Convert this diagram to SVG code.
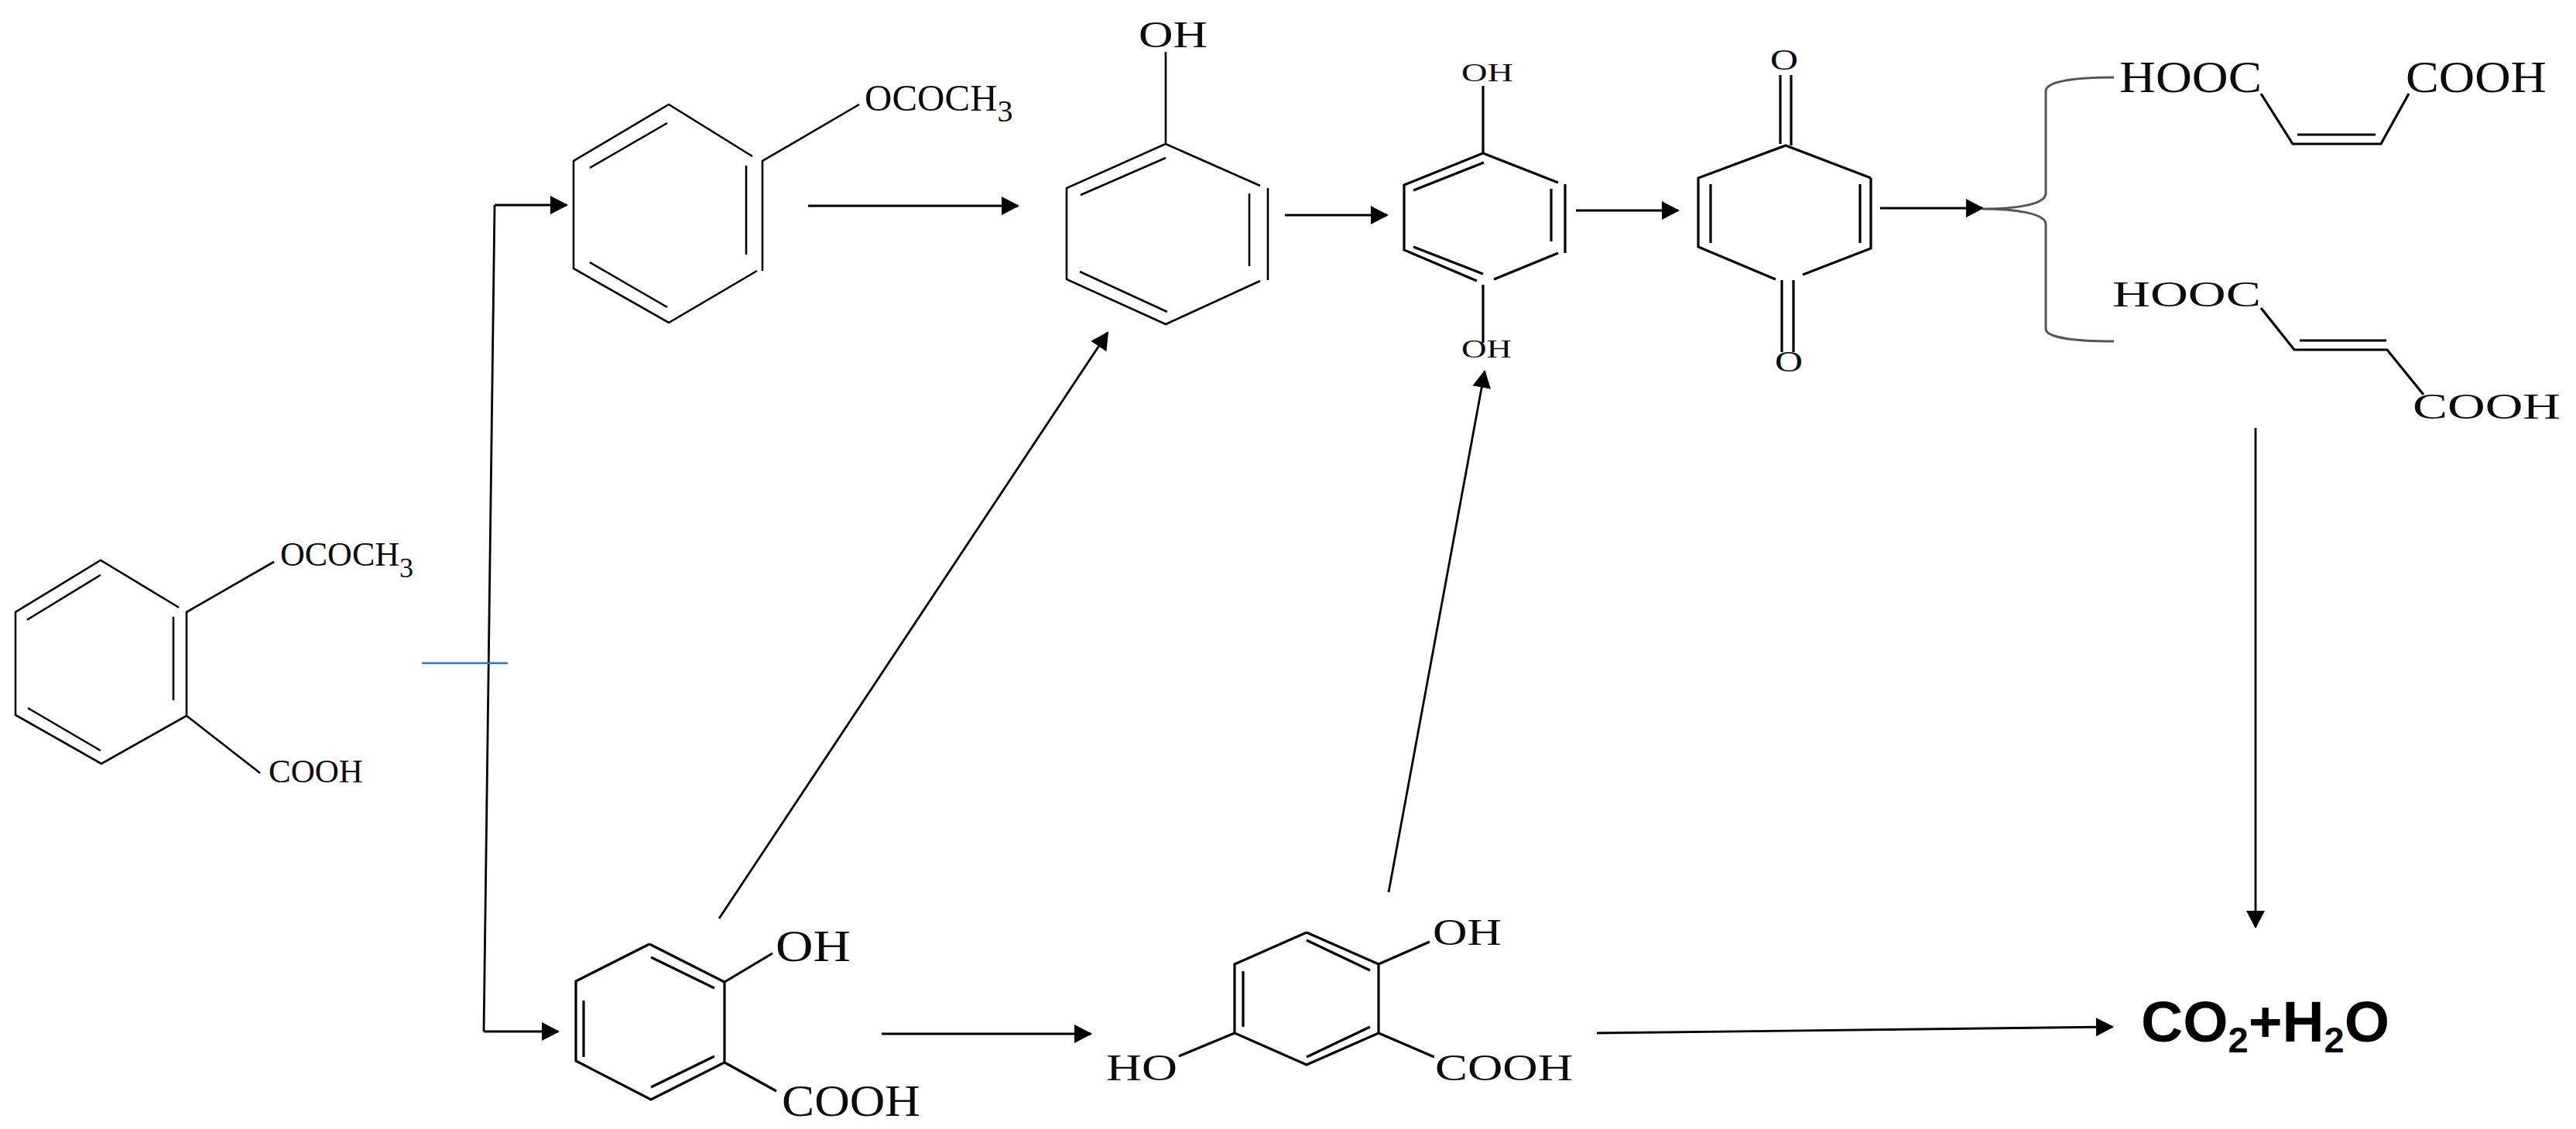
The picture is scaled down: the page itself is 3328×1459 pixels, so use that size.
<svg xmlns="http://www.w3.org/2000/svg" width="3328" height="1459" viewBox="0 0 3328 1459">
<style>
.b{fill:none;stroke:#000;stroke-width:2.6}
.h{fill:none;stroke:#000;stroke-width:3.2}
.c{fill:none;stroke:#000;stroke-width:2.8}
.t{font-family:"Liberation Serif","Times New Roman",serif;fill:#0c0c0c}
.p{font-family:"Liberation Sans",Arial,sans-serif;font-weight:700;fill:#000}
</style>
<defs>
<marker id="a" markerUnits="userSpaceOnUse" markerWidth="24" markerHeight="26" refX="21" refY="12" orient="auto"><path d="M0 0L23 12L0 24z" fill="#000"/></marker>
</defs>
<rect width="3328" height="1459" fill="#fff"/>
<g id="connectors">
<path class="c" d="M639 265L625 1333"/>
<path class="c" d="M625 1333H721" marker-end="url(#a)"/>
<path class="c" d="M639 265H732" marker-end="url(#a)"/>
<path d="M545 857H656" fill="none" stroke="#2a78c8" stroke-width="2.4"/>
<path class="c" d="M1044 266H1315" marker-end="url(#a)"/>
<path class="c" d="M1660 278H1792" marker-end="url(#a)"/>
<path class="c" d="M2036 272H2168" marker-end="url(#a)"/>
<path class="c" d="M2429 269H2561" marker-end="url(#a)"/>
<path d="M2731 100C2680 100 2643 105 2643 118V250C2643 265 2600 270 2561 270C2600 270 2643 275 2643 290V425C2643 436 2680 441 2731 441" fill="none" stroke="#555" stroke-width="3"/>
<path class="c" d="M929 1187L1431 430" marker-end="url(#a)"/>
<path class="c" d="M1794 1153L1918 480" marker-end="url(#a)"/>
<path class="c" d="M1139 1336H1409" marker-end="url(#a)"/>
<path class="c" d="M2063 1335L2729 1327" marker-end="url(#a)"/>
<path class="c" d="M2914 553V1198" marker-end="url(#a)"/>
</g>
<g id="aspirin">
<path class="b" d="M231 785L130 724L20 791V924L131 987L241 925V791L354 726M241 925L336 999M35 801L130 743M224 797V905M36 915L130 970"/>
<text class="t" x="362" y="731" font-size="44">OCOCH<tspan dy="15" font-size="36">3</tspan></text>
<text class="t" x="347" y="1011" font-size="43">COOH</text>
</g>
<g id="phenyl-acetate">
<path class="b" d="M972 202L864 135L741 208V347L864 417L978 350M985 350V208L1110 135M762 217L862 159M964 214V329M762 339L862 397"/>
<text class="t" x="1117" y="143" font-size="49">OCOCH<tspan dy="14" font-size="40">3</tspan></text>
</g>
<g id="phenol">
<path class="b" d="M1506 67V186L1378 243V361L1506 419L1628 363M1506 186L1628 240M1638 243V362M1396 252L1506 204M1614 250V344M1395 351L1508 403"/>
<text class="t" x="1471" y="61" font-size="48" textLength="89" lengthAdjust="spacingAndGlyphs">OH</text>
</g>
<g id="hydroquinone">
<path class="h" d="M1916 111V198L1814 239V323L1908 363M1916 198L2013 236M2022 238V327M2013 327L1930 361M1826 246L1917 210M2004 244V312M1826 319L1916 354M1916 368V443"/>
<text class="t" x="1888" y="105" font-size="34" textLength="67" lengthAdjust="spacingAndGlyphs">OH</text>
<text class="t" x="1888" y="462" font-size="34" textLength="65" lengthAdjust="spacingAndGlyphs">OH</text>
</g>
<g id="benzoquinone">
<path class="h" d="M2417 230L2307 188L2194 230V319L2294 361M2417 230V321L2329 355M2210 238V314M2403 238V314M2300 97V186M2314 97V188M2302 362V455M2317 362V455"/>
<text class="t" x="2287" y="90" font-size="38" textLength="36" lengthAdjust="spacingAndGlyphs">O</text>
<text class="t" x="2293" y="480" font-size="38" textLength="36" lengthAdjust="spacingAndGlyphs">O</text>
</g>
<g id="maleic-acid">
<path class="h" d="M2921 121L2962 186H3076L3112 121M2968 174H3069"/>
<text class="t" x="2738" y="119" font-size="58" textLength="184" lengthAdjust="spacingAndGlyphs">HOOC</text>
<text class="t" x="3108" y="119" font-size="58" textLength="182" lengthAdjust="spacingAndGlyphs">COOH</text>
</g>
<g id="fumaric-acid">
<path class="h" d="M2921 398L2964 452H3084L3131 510M2971 440H3083"/>
<text class="t" x="2729" y="396" font-size="46" textLength="192" lengthAdjust="spacingAndGlyphs">HOOC</text>
<text class="t" x="3117" y="541" font-size="46" textLength="191" lengthAdjust="spacingAndGlyphs">COOH</text>
</g>
<g id="salicylic-acid">
<path class="h" d="M839 1220L744 1268V1371L841 1421L936 1373V1269L839 1220M936 1269L998 1232M936 1373L1003 1410M754 1293V1366M841 1237L923 1277M841 1405L923 1365"/>
<text class="t" x="1002" y="1242" font-size="56" textLength="97" lengthAdjust="spacingAndGlyphs">OH</text>
<text class="t" x="1010" y="1442" font-size="56" textLength="179" lengthAdjust="spacingAndGlyphs">COOH</text>
</g>
<g id="gentisic-acid">
<path class="h" d="M1688 1205L1595 1246V1335L1688 1376L1781 1335V1246L1688 1205M1781 1246L1847 1217M1595 1335L1523 1365M1781 1335L1853 1366M1688 1215L1770 1254M1606 1255V1327M1688 1366L1770 1327"/>
<text class="t" x="1851" y="1221" font-size="48" textLength="89" lengthAdjust="spacingAndGlyphs">OH</text>
<text class="t" x="1429" y="1396" font-size="48" textLength="92" lengthAdjust="spacingAndGlyphs">HO</text>
<text class="t" x="1854" y="1396" font-size="48" textLength="178" lengthAdjust="spacingAndGlyphs">COOH</text>
</g>
<g id="products">
<text class="p" x="2766" y="1346" font-size="75">CO<tspan dy="14" font-size="47">2</tspan><tspan dy="-14">+H</tspan><tspan dy="14" font-size="47">2</tspan><tspan dy="-14">O</tspan></text>
</g>
</svg>
